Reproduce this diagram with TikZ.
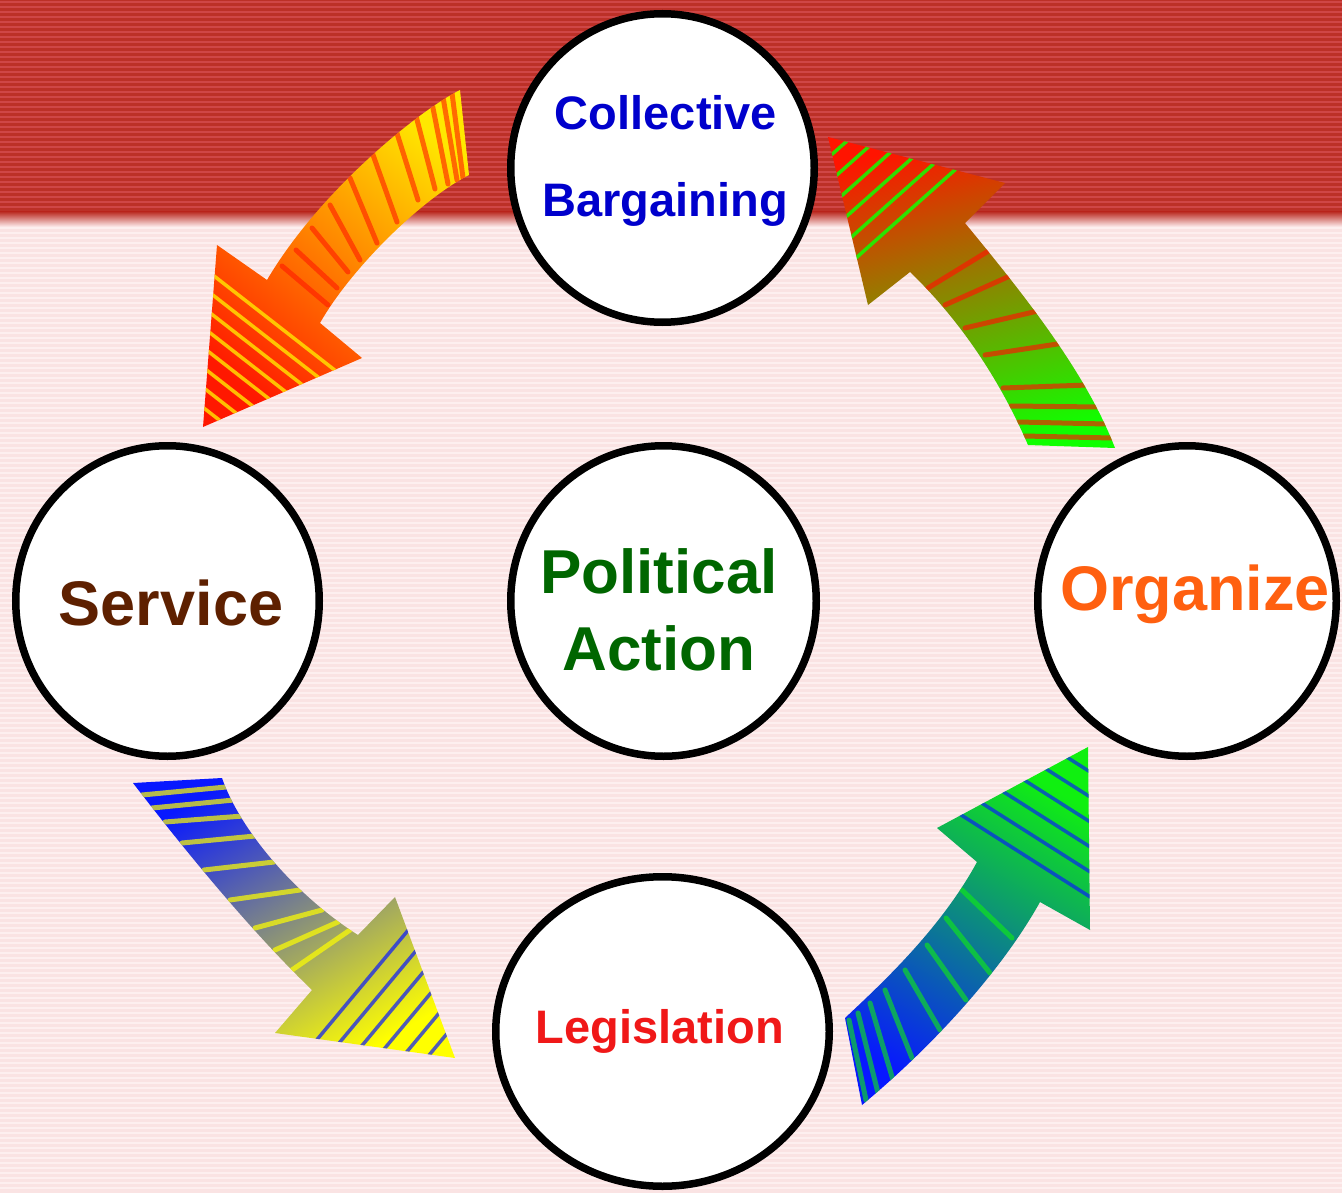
\documentclass[tikz,border=0pt]{standalone}
\usepackage{fontspec}
\setmainfont{Liberation Sans}
\usetikzlibrary{shapes.geometric}
\definecolor{bandred}{HTML}{BC3027}
\definecolor{bandlight}{HTML}{CF4646}
\definecolor{pinkbg}{HTML}{FAE3E3}
\definecolor{pinklight}{HTML}{FDEFEF}
\definecolor{cbblue}{HTML}{0000CC}
\definecolor{servbrown}{HTML}{5E2000}
\definecolor{polgreen}{HTML}{006600}
\definecolor{orgorange}{HTML}{FF6010}
\definecolor{legred}{HTML}{F01818}
\definecolor{aY}{HTML}{FFE800}
\definecolor{aO}{HTML}{FF8400}
\definecolor{aR}{HTML}{FF1800}
\definecolor{bR}{HTML}{FF1400}
\definecolor{bO}{HTML}{8A7400}
\definecolor{bG}{HTML}{10FF00}
\definecolor{cB}{HTML}{0818FF}
\definecolor{cM}{HTML}{8E8E78}
\definecolor{cY}{HTML}{FFFF00}
\definecolor{dG}{HTML}{10F010}
\definecolor{dM}{HTML}{00A070}
\definecolor{dB}{HTML}{0818FF}
\tikzset{
  ring/.style={ellipse, draw=black, line width=7.5pt, fill=white, inner sep=0pt},
  lbl/.style={anchor=base, inner sep=0pt},
  hatch/.style={line width=5pt, line cap=round},
  thinhatch/.style={line width=3.5pt, line cap=round}
}
\begin{document}
\begin{tikzpicture}[x=1pt,y=-1pt]
\useasboundingbox (0,0) rectangle (1342,1193);
% background
\fill[pinkbg] (0,0) rectangle (1342,1193);
\foreach \y in {222,227,...,1190} \fill[pinklight] (0,\y) rectangle (1342,\y+2);
\fill[bandred] (0,0) rectangle (1342,215);
\foreach \y in {1,6,...,211} \fill[bandlight] (0,\y) rectangle (1342,\y+2.5);
\shade[top color=bandred, bottom color=pinkbg] (0,212) rectangle (1342,226);

% circles
\node[ring, minimum width=303.5pt, minimum height=308.5pt] (cb) at (662.5,168) {};
\node[ring, minimum width=303.5pt, minimum height=310.5pt] (serv) at (167.5,601) {};
\node[ring, minimum width=305.5pt, minimum height=310.5pt] (pol) at (663.5,601) {};
\node[ring, minimum width=298.5pt, minimum height=310.5pt] (org) at (1187,601) {};
\node[ring, minimum width=333.5pt, minimum height=309.5pt] (leg) at (662.5,1031.5) {};

% labels
\node[lbl, text=cbblue, font=\bfseries\fontsize{47}{47}\selectfont] (cbt1) at (666,130) {Collective};
\node[lbl, text=cbblue, font=\bfseries\fontsize{47}{47}\selectfont] (cbt2) at (665,217) {Bargaining};
\node[lbl, text=servbrown, font=\bfseries\fontsize{63}{63}\selectfont] (servt) at (171,625) {Service};
\node[lbl, text=polgreen, font=\bfseries\fontsize{62}{62}\selectfont] (polt1) at (659,593) {Political};
\node[lbl, text=polgreen, font=\bfseries\fontsize{62}{62}\selectfont] (polt2) at (659,670) {Action};
\node[lbl, text=orgorange, font=\bfseries\fontsize{63}{63}\selectfont] (orgt) at (1195,610) {Organize};
\node[lbl, text=legred, font=\bfseries\fontsize{47}{47}\selectfont] (legt) at (660,1043) {Legislation};

% arrow 1: Collective Bargaining -> Service
\begin{scope}
\clip (460,90) .. controls (420,110) and (320,190) .. (267,280) -- (217,245) -- (203,427) -- (362,358) -- (320,323) .. controls (350,270) and (420,200) .. (469,175) -- cycle;
\shade[top color=aY, middle color=aO, bottom color=aR, shading angle=-40] (195,85) rectangle (475,432);
\foreach \a/\b in {{(452,93)}/{(463,178)},{(443,97)}/{(457,180)},{(432,103)}/{(448,184)},{(415,112)}/{(435,189)},{(395,127)}/{(418,200)},{(372,152)}/{(397,222)},{(350,178)}/{(377,243)},{(330,205)}/{(360,260)},{(312,228)}/{(348,272)},{(296,250)}/{(337,288)},{(282,266)}/{(328,305)}}
  \draw[hatch, aR, opacity=0.6] \a -- \b;
\foreach \s in {15,35,55,75,95,115,135,155}
  \draw[thinhatch, aY, opacity=0.8] (200,250+\s) -- ++(200,156);
\end{scope}

% arrow 2: Organize -> Collective Bargaining
\begin{scope}
\clip (828,137) -- (1005,183) -- (965,223) .. controls (1020,290) and (1085,370) .. (1115,448) -- (1028,445) .. controls (1000,380) and (960,320) .. (910,272) -- (868,305) -- cycle;
\shade[top color=bR, middle color=bO, bottom color=bG, shading angle=15] (822,132) rectangle (1120,452);
\foreach \a/\b in {{(1024,436)}/{(1112,438)},{(1018,422)}/{(1106,424)},{(1011,406)}/{(1099,407)},{(1003,388)}/{(1088,385)},{(985,355)}/{(1064,343)},{(965,328)}/{(1042,310)},{(945,305)}/{(1012,275)},{(928,288)}/{(990,250)}}
  \draw[hatch, bR, opacity=0.65] \a -- \b;
\foreach \s in {165,190,215,240,265,290}
  \draw[thinhatch, bG, opacity=0.85] (820,\s) -- ++(200,-178);
\end{scope}

% arrow 3: Service -> Legislation
\begin{scope}
\clip (133,783) -- (222,778) .. controls (240,830) and (295,895) .. (358,935) -- (395,897) -- (455,1058) -- (275,1033) -- (312,990) .. controls (260,940) and (200,870) .. (133,783) -- cycle;
\shade[top color=cB, middle color=cM, bottom color=cY, shading angle=30] (128,773) rectangle (460,1062);
\foreach \a/\b in {{(142,795)}/{(226,787)},{(152,808)}/{(234,800)},{(165,822)}/{(243,816)},{(182,843)}/{(255,836)},{(204,870)}/{(274,862)},{(230,900)}/{(300,890)},{(255,928)}/{(322,910)},{(275,950)}/{(338,922)},{(292,970)}/{(350,930)}}
  \draw[hatch, cY, opacity=0.7] \a -- \b;
\foreach \x in {300,325,350,375,400,425}
  \draw[thinhatch, cB, opacity=0.7] (\x,1060) -- ++(150,-180);
\end{scope}

% arrow 4: Legislation -> Organize
\begin{scope}
\clip (862,1105) -- (845,1018) .. controls (880,985) and (940,930) .. (977,862) -- (937,828) -- (1088,747) -- (1090,930) -- (1040,902) .. controls (1005,965) and (940,1040) .. (862,1105) -- cycle;
\shade[top color=dG, middle color=dM, bottom color=dB, shading angle=-30] (840,742) rectangle (1095,1110);
\foreach \a/\b in {{(849,1020)}/{(866,1100)},{(858,1013)}/{(878,1093)},{(870,1003)}/{(893,1080)},{(885,990)}/{(912,1058)},{(905,970)}/{(940,1030)},{(927,945)}/{(966,1000)},{(946,918)}/{(990,973)},{(962,890)}/{(1012,938)}}
  \draw[hatch, dG, opacity=0.6] \a -- \b;
\foreach \s in {775,800,825,850,875,900}
  \draw[thinhatch, dB, opacity=0.65] (1095,\s) -- ++(-200,-127);
\end{scope}
\end{tikzpicture}
\end{document}
